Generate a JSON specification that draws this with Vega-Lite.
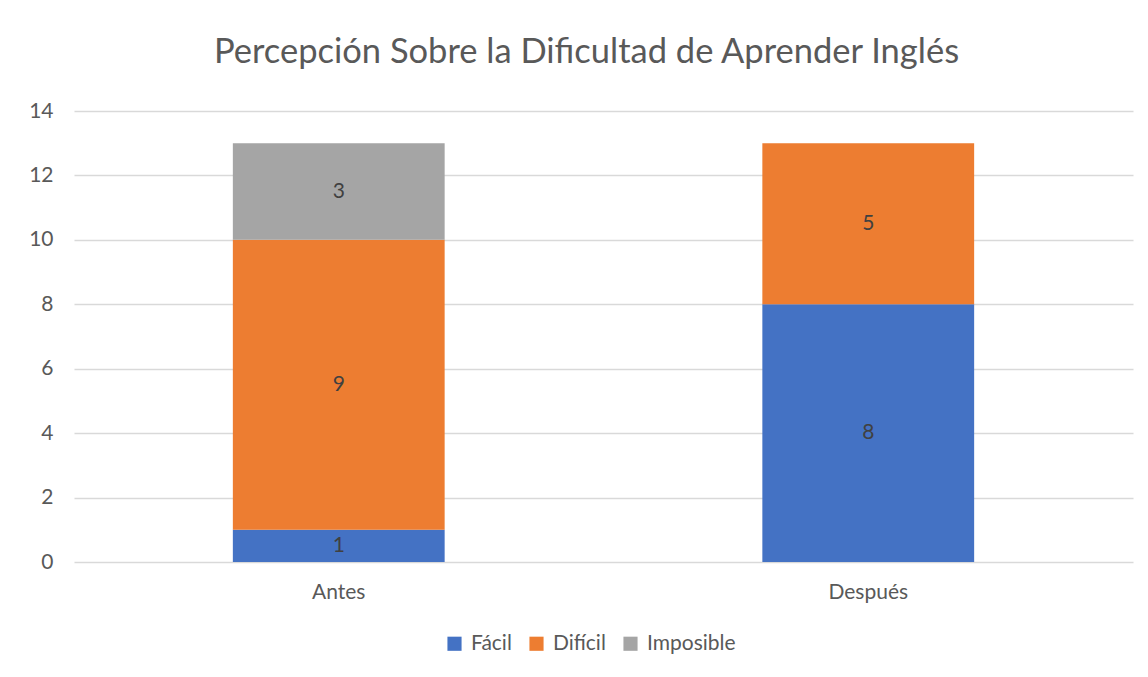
{
  "$schema": "https://vega.github.io/schema/vega-lite/v6.json",
  "width": 1059,
  "height": 451,
  "autosize": {"type": "none"},
  "padding": {"left": 74, "top": 111, "right": 15, "bottom": 115},
  "background": "white",
  "title": {
    "text": "Percepción Sobre la Dificultad de Aprender Inglés",
    "font": "Lato",
    "fontSize": 34.5,
    "fontWeight": "normal",
    "color": "#595959",
    "anchor": "middle",
    "offset": 30,
    "dx": -17
  },
  "config": {
    "view": {"stroke": null},
    "font": "Lato"
  },
  "data": {
    "values": [
      {"momento": "Antes", "nivel": "Fácil", "orden": 1, "valor": 1},
      {"momento": "Antes", "nivel": "Difícil", "orden": 2, "valor": 9},
      {"momento": "Antes", "nivel": "Imposible", "orden": 3, "valor": 3},
      {"momento": "Después", "nivel": "Fácil", "orden": 1, "valor": 8},
      {"momento": "Después", "nivel": "Difícil", "orden": 2, "valor": 5}
    ]
  },
  "transform": [
    {"stack": "valor", "groupby": ["momento"], "sort": [{"field": "orden", "order": "ascending"}], "as": ["v0", "v1"]},
    {"calculate": "(datum.v0 + datum.v1) / 2", "as": "vmid"}
  ],
  "encoding": {
    "x": {
      "field": "momento",
      "type": "nominal",
      "sort": ["Antes", "Después"],
      "scale": {"paddingInner": 0.6, "paddingOuter": 0.3},
      "axis": {
        "title": null,
        "labelAngle": 0,
        "labelFont": "Lato",
        "labelFontSize": 21,
        "labelColor": "#595959",
        "labelPadding": 19,
        "ticks": false,
        "domain": false,
        "grid": false
      }
    }
  },
  "layer": [
    {
      "mark": {"type": "bar"},
      "encoding": {
        "y": {
          "field": "v0",
          "type": "quantitative",
          "scale": {"domain": [0, 14]},
          "axis": {
            "title": null,
            "values": [0, 2, 4, 6, 8, 10, 12, 14],
            "labelFont": "Lato",
            "labelFontSize": 21,
            "labelColor": "#595959",
            "labelPadding": 21,
            "ticks": false,
            "domain": false,
            "gridColor": "#D9D9D9",
            "gridWidth": 1.3
          }
        },
        "y2": {"field": "v1"},
        "color": {
          "field": "nivel",
          "type": "nominal",
          "scale": {"domain": ["Fácil", "Difícil", "Imposible"], "range": ["#4472C4", "#ED7D31", "#A5A5A5"]},
          "legend": {
            "title": null,
            "orient": "none",
            "legendX": 370,
            "legendY": 522,
            "direction": "horizontal",
            "symbolType": "square",
            "symbolSize": 200,
            "symbolStrokeWidth": 0,
            "symbolOpacity": 1,
            "labelFont": "Lato",
            "labelFontSize": 21,
            "labelColor": "#595959",
            "labelOffset": 6,
            "columnPadding": 14
          }
        }
      }
    },
    {
      "mark": {"type": "text", "font": "Lato", "fontSize": 21, "color": "#404040"},
      "encoding": {
        "y": {"field": "vmid", "type": "quantitative"},
        "text": {"field": "valor", "type": "quantitative"}
      }
    }
  ]
}
